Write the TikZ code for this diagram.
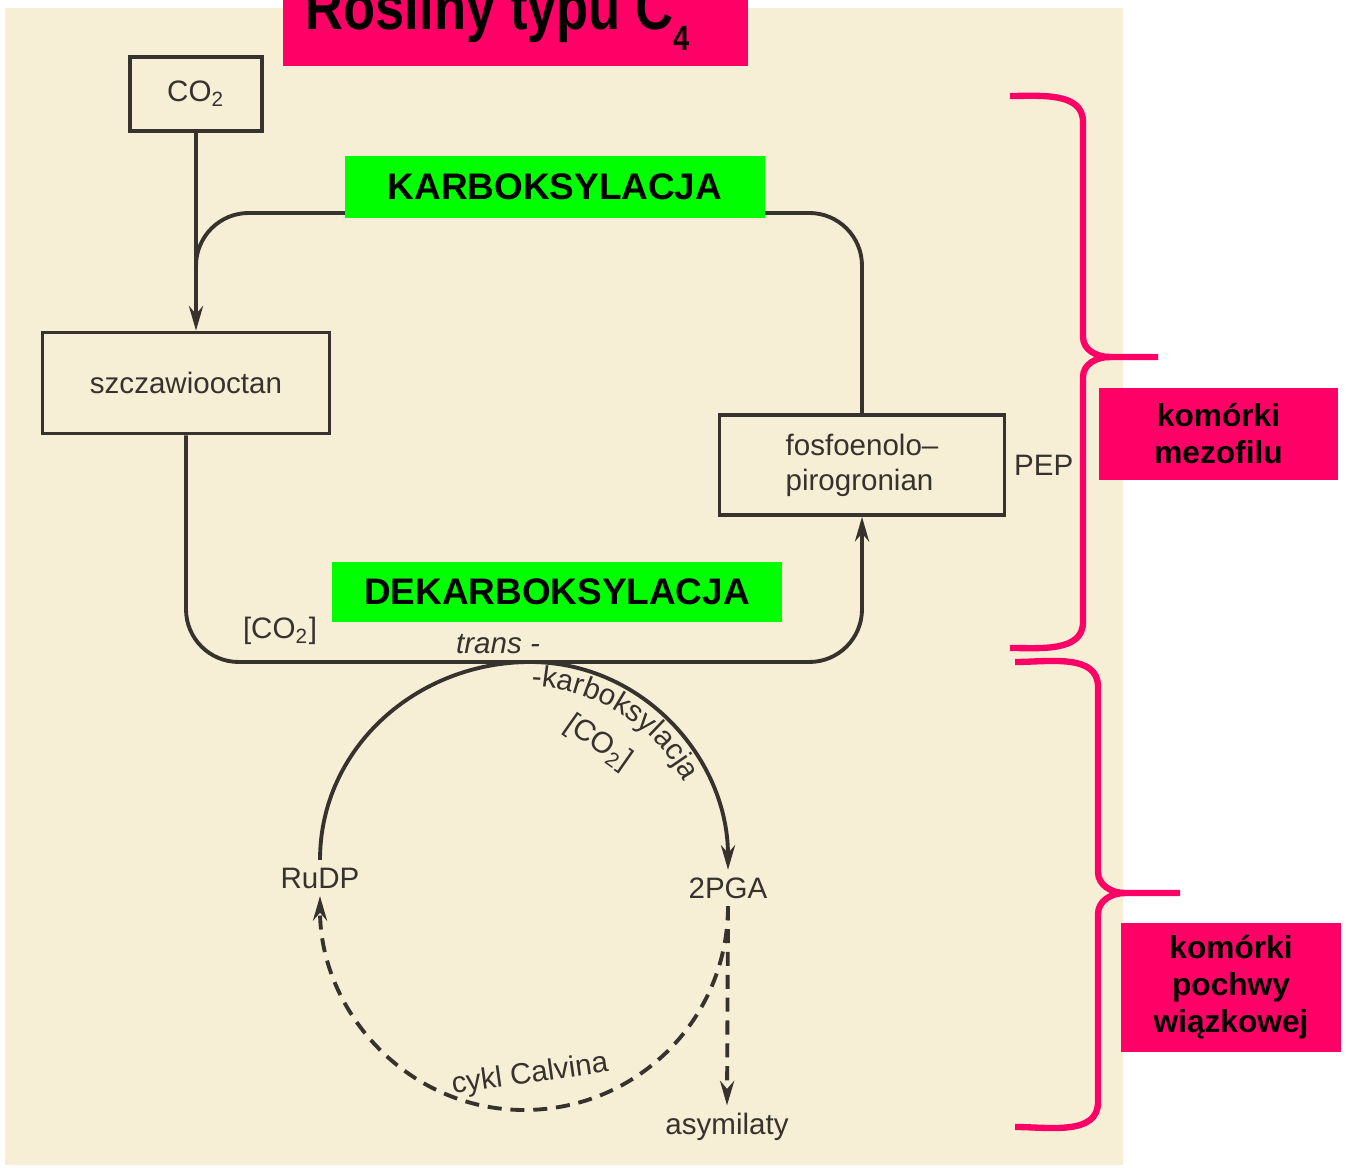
\documentclass[tikz,border=0pt]{standalone}
\usepackage{fontspec}
\setmainfont{Liberation Sans}
\usetikzlibrary{arrows.meta,decorations.text,positioning}
\definecolor{paper}{RGB}{247,238,214}
\definecolor{ink}{RGB}{55,50,45}
\definecolor{hotpink}{RGB}{255,0,102}
\definecolor{leafgreen}{RGB}{0,255,0}
\tikzset{
	scanbox/.style={draw=ink, line width=1pt, inner sep=0pt, text=ink, font=\fontsize{8.4}{10}\selectfont},
	scantext/.style={inner sep=2pt, text=ink, font=\fontsize{8.4}{10}\selectfont},
	scanline/.style={draw=ink, line width=1.1pt},
	flow/.style={scanline, -{Stealth[length=7pt,width=4pt]}},
	stagebox/.style={fill=leafgreen, inner sep=0pt, font=\fontsize{10.5}{12}\selectfont\bfseries},
	cellbox/.style={fill=hotpink, inner sep=0pt, align=center, font=\fontsize{9}{10.5}\selectfont\bfseries},
	bracket/.style={draw=hotpink, line width=1.8pt}
}
\begin{document}
\begin{tikzpicture}[x=0.01cm,y=0.01cm]
	\useasboundingbox (0,0) rectangle (1346,1167);
	\clip (0,0) rectangle (1346,1167);
	\fill[paper] (5,2) rectangle (1123,1159);
	
	\fill[hotpink] (283,1101) rectangle (748,1190);
	\node[anchor=base west, inner sep=0pt, font=\fontsize{18}{20}\selectfont\bfseries] (title) at (305,1137) {\scalebox{0.83}[1]{Rośliny typu C\raisebox{-5.7pt}{\fontsize{10}{10}\selectfont 4}}};
	
	\node[scanbox, minimum width=1.32cm, minimum height=0.74cm] (co2) at (196,1073) {CO\textsubscript{2}};
	\node[scanbox, minimum width=2.87cm, minimum height=1.01cm] (szcz) at (186,784) {szczawiooctan};
	\node[scanbox, minimum width=2.85cm, minimum height=1.0cm, align=left] (fos) at (862,702) {fosfoenolo--\\pirogronian};
	\node[scantext, right=0pt of fos] (pep) {PEP};
	\node[scantext] (rudp) at (320,289) {RuDP};
	\node[scantext] (pga) at (728,279) {2PGA};
	\node[scantext] (asym) at (727,40) {asymilaty};
	\coordinate (merge) at (co2.south |- 0,870);
	\coordinate (topleft) at (co2.south |- 0,954);
	\coordinate (junction) at (530,505);
	\coordinate (calvbot) at (524,57);
	
	\draw[flow] (co2.south) -- (co2.south |- szcz.north);
	\draw[scanline, rounded corners=15pt] (fos.north) |- (topleft) -- (merge);
	\draw[flow, rounded corners=15pt] (szcz.south) |- (junction) -| (fos.south);
	\draw[flow] (rudp.north) to[out=90,in=180] (junction) to[out=0,in=90] (pga.north);
	\draw[flow, dash pattern=on 4pt off 2.5pt] (pga.south) to[out=-90,in=0] (calvbot) to[out=180,in=-90] (rudp.south);
	\draw[flow, dash pattern=on 4pt off 2.5pt] (pga.south) -- (asym.north);
	
	\node[scantext] (co2left) at (280,536) {[CO\textsubscript{2}]};
	\node[scantext, font=\fontsize{8.4}{10}\selectfont\itshape] (trans) at (498,523) {trans -};
	\node[scantext, inner sep=0pt, rotate=-35] (co2right) at (598,424) {[CO\textsubscript{2}]};
	\path[decorate, decoration={text along path, text align=center, text={|\fontsize{8.4}{10}\selectfont\color{ink}|-karboksylacja}}] ([shift={(88:182)}]524,299) arc[start angle=88, end angle=28, radius=182];
	\node[scantext, inner sep=0pt, rotate=8] (calvin) at (530,92) {cykl Calvina};
	
	\node[stagebox, minimum width=4.2cm, minimum height=0.61cm] (karb) at (555,980) {KARBOKSYLACJA};
	\node[stagebox, minimum width=4.49cm, minimum height=0.6cm] (dekarb) at (557,575) {DEKARBOKSYLACJA};
	
	\draw[bracket] (1010,1071) to[out=0,in=90] (1083,1045) -- (1083,830) to[out=-90,in=180] (1110,810) -- (1158,810);
	\draw[bracket] (1110,810) to[out=180,in=90] (1083,790) -- (1083,545) to[out=-90,in=0] (1010,519);
	\draw[bracket] (1015,505) to[out=0,in=90] (1098,480) -- (1098,295) to[out=-90,in=180] (1125,274) -- (1180,274);
	\draw[bracket] (1125,274) to[out=180,in=90] (1098,253) -- (1098,65) to[out=-90,in=0] (1015,40);
	\node[cellbox, minimum width=2.39cm, minimum height=0.92cm] (meso) at (1218.5,733) {komórki\\mezofilu};
	\node[cellbox, minimum width=2.2cm, minimum height=1.29cm] (sheath) at (1231,179.5) {komórki\\pochwy\\wiązkowej};
\end{tikzpicture}
\end{document}
